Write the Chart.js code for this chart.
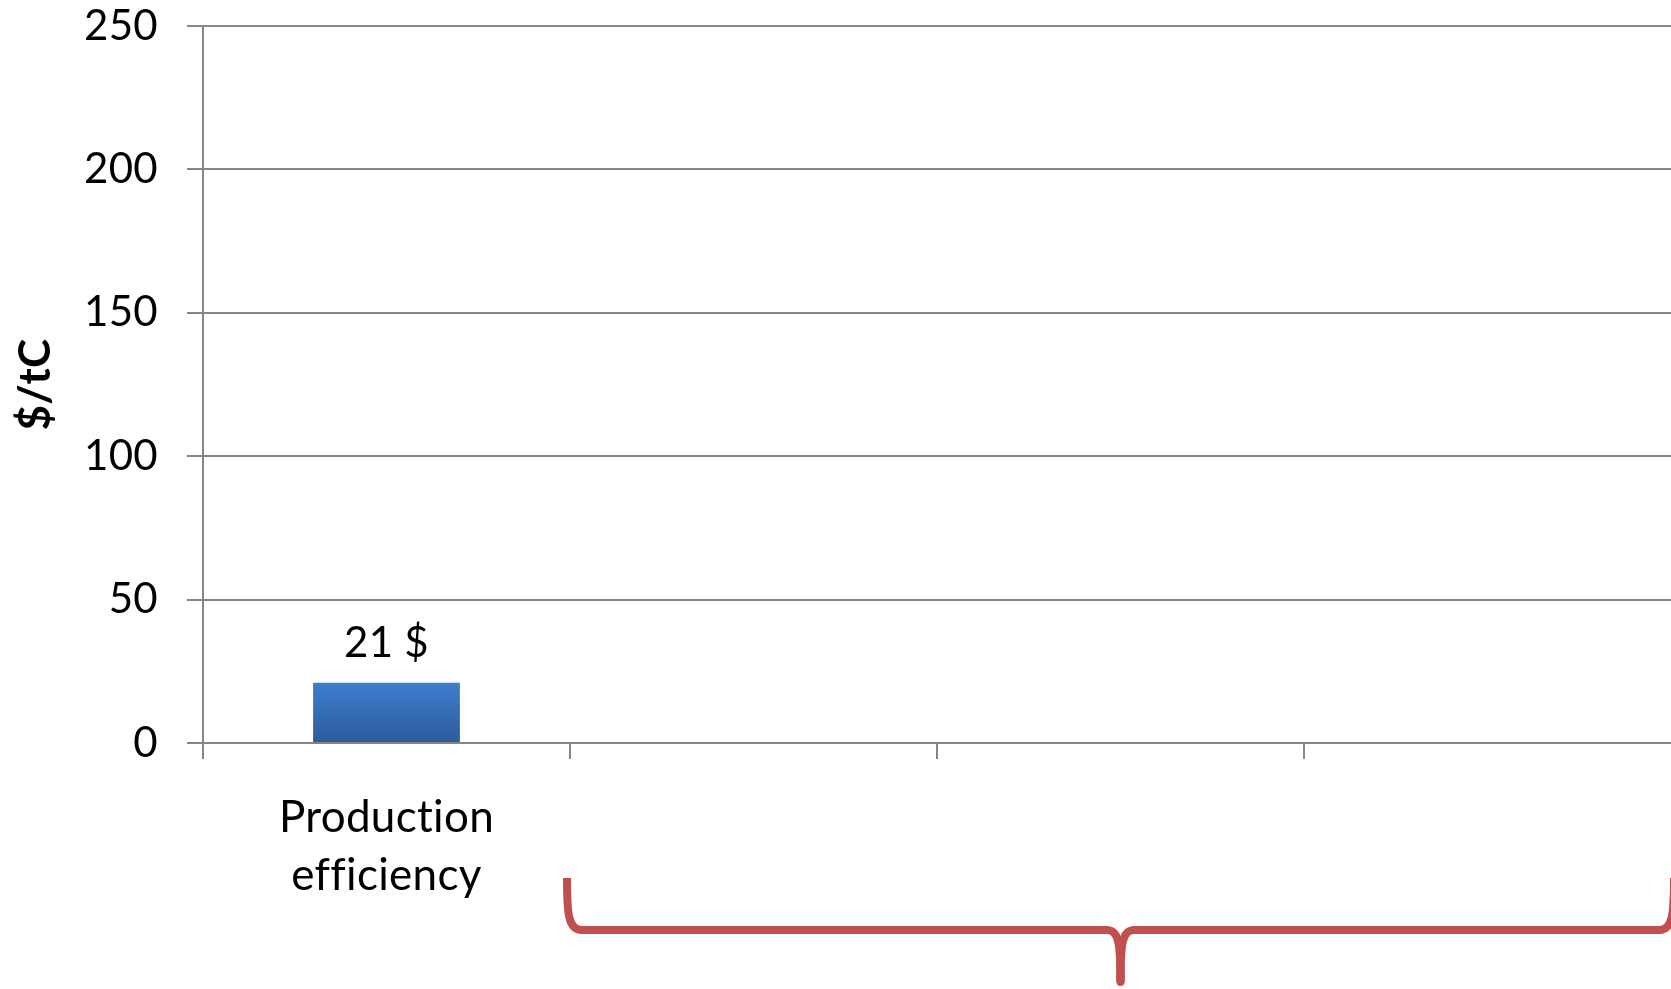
<!DOCTYPE html>
<html>
<head>
<meta charset="utf-8">
<title>$/tC</title>
<script src="https://cdn.jsdelivr.net/npm/chart.js@4/dist/chart.umd.min.js"></script>
<style>
  body { margin: 0; background: #fff; }
  canvas { display: block; }
</style>
</head>
<body>
<canvas id="costChart" width="1671" height="989"></canvas>
<script>
// chart data
var categories = [['Production', 'efficiency'], '', '', ''];
var costValues = [21, null, null, null];
var valueLabels = ['21 $', '', '', ''];
var yTicks = [0, 50, 100, 150, 200, 250];

var gridGrey = '#868686';
var fontName = 'Lato, "Open Sans", sans-serif';

// tiny letter spacing so canvas text skips the fi / ti ligatures
var noLigaturePlugin = {
    id: 'noLigatures',
    beforeDraw: function (chart) {
        chart.ctx.letterSpacing = '0.3px';
    }
};

// bar label drawn above each bar
var barLabelPlugin = {
    id: 'barLabels',
    afterDatasetsDraw: function (chart) {
        var ctx = chart.ctx;
        var meta = chart.getDatasetMeta(0);
        ctx.save();
        ctx.font = '42px ' + fontName;
        ctx.fillStyle = '#000';
        ctx.textAlign = 'center';
        ctx.textBaseline = 'middle';
        meta.data.forEach(function (bar, i) {
            if (costValues[i] == null) return;
            ctx.fillText(valueLabels[i], bar.x, bar.y - 39);
        });
        ctx.restore();
    }
};

// red curly brace under categories 2-4
var bracePlugin = {
    id: 'brace',
    afterDraw: function (chart) {
        var x = chart.scales.x;
        var half = (x.getPixelForValue(1) - x.getPixelForValue(0)) / 2;
        var xL = x.getPixelForValue(1) - half - 3;
        var xR = x.getPixelForValue(3) + half + 3;
        var xM = (xL + xR) / 2;
        var base = chart.chartArea.bottom;
        var yTop = base + 135;
        var yH = base + 187;
        var yTip = base + 243;
        var ctx = chart.ctx;
        ctx.save();
        ctx.strokeStyle = '#C0504D';
        ctx.lineWidth = 8;
        ctx.lineJoin = 'round';
        // left half
        ctx.beginPath();
        ctx.moveTo(xL, yTop);
        ctx.bezierCurveTo(xL, yTop + 35, xL + 1, yH, xL + 15, yH);
        ctx.lineTo(xM - 14, yH);
        ctx.bezierCurveTo(xM - 2, yH, xM, yH + 12, xM, yTip - 4);
        ctx.stroke();
        // right half
        ctx.beginPath();
        ctx.moveTo(xR, yTop);
        ctx.bezierCurveTo(xR, yTop + 35, xR - 1, yH, xR - 15, yH);
        ctx.lineTo(xM + 14, yH);
        ctx.bezierCurveTo(xM + 2, yH, xM, yH + 12, xM, yTip - 4);
        ctx.stroke();
        // rounded tip
        ctx.lineCap = 'round';
        ctx.beginPath();
        ctx.moveTo(xM, yH + 20);
        ctx.lineTo(xM, yTip - 4);
        ctx.stroke();
        ctx.restore();
    }
};

function barGradient(context) {
    var chart = context.chart;
    if (!chart.chartArea) return '#3A74C0';
    var y = chart.scales.y;
    var top = y.getPixelForValue(context.raw || 0);
    var g = chart.ctx.createLinearGradient(0, top, 0, y.getPixelForValue(0));
    g.addColorStop(0, '#3D7ECE');
    g.addColorStop(1, '#2D5C9A');
    return g;
}

new Chart(document.getElementById('costChart'), {
    type: 'bar',
    data: {
        labels: categories,
        datasets: [{
            data: costValues,
            backgroundColor: barGradient,
            borderWidth: 0,
            categoryPercentage: 1,
            barPercentage: 0.4
        }]
    },
    options: {
        responsive: false,
        animation: false,
        layout: { padding: 0 },
        plugins: {
            legend: { display: false },
            tooltip: { enabled: false }
        },
        scales: {
            x: {
                offset: true,
                afterFit: function (scale) { scale.height = 246; },
                grid: {
                    offset: true,
                    drawOnChartArea: false,
                    drawTicks: true,
                    tickLength: 16,
                    // the closing mark at the right edge has no tick context
                    color: function (c) { return c.type === 'tick' ? gridGrey : 'rgba(0,0,0,0)'; },
                    lineWidth: 2
                },
                border: { display: true, color: gridGrey, width: 2 },
                ticks: {
                    autoSkip: false,
                    maxRotation: 0,
                    padding: 30,
                    color: '#000',
                    font: { family: fontName, size: 44, lineHeight: 1.32 }
                }
            },
            y: {
                min: yTicks[0],
                max: yTicks[yTicks.length - 1],
                afterFit: function (scale) {
                    scale.width = 203;
                    scale.paddingTop = 26;
                    scale.paddingBottom = 0;
                },
                afterBuildTicks: function (scale) {
                    scale.ticks = yTicks.map(function (v) { return { value: v }; });
                },
                grid: {
                    color: gridGrey,
                    lineWidth: 2,
                    tickLength: 16
                },
                border: { display: true, color: gridGrey, width: 2 },
                ticks: {
                    padding: 29,
                    color: '#000',
                    font: { family: fontName, size: 42 }
                },
                title: {
                    display: true,
                    text: '$/tC',
                    color: '#000',
                    padding: { top: 9, bottom: 0 },
                    font: { family: fontName, size: 44, weight: 'bold' }
                }
            }
        }
    },
    plugins: [noLigaturePlugin, barLabelPlugin, bracePlugin]
});
</script>
</body>
</html>
